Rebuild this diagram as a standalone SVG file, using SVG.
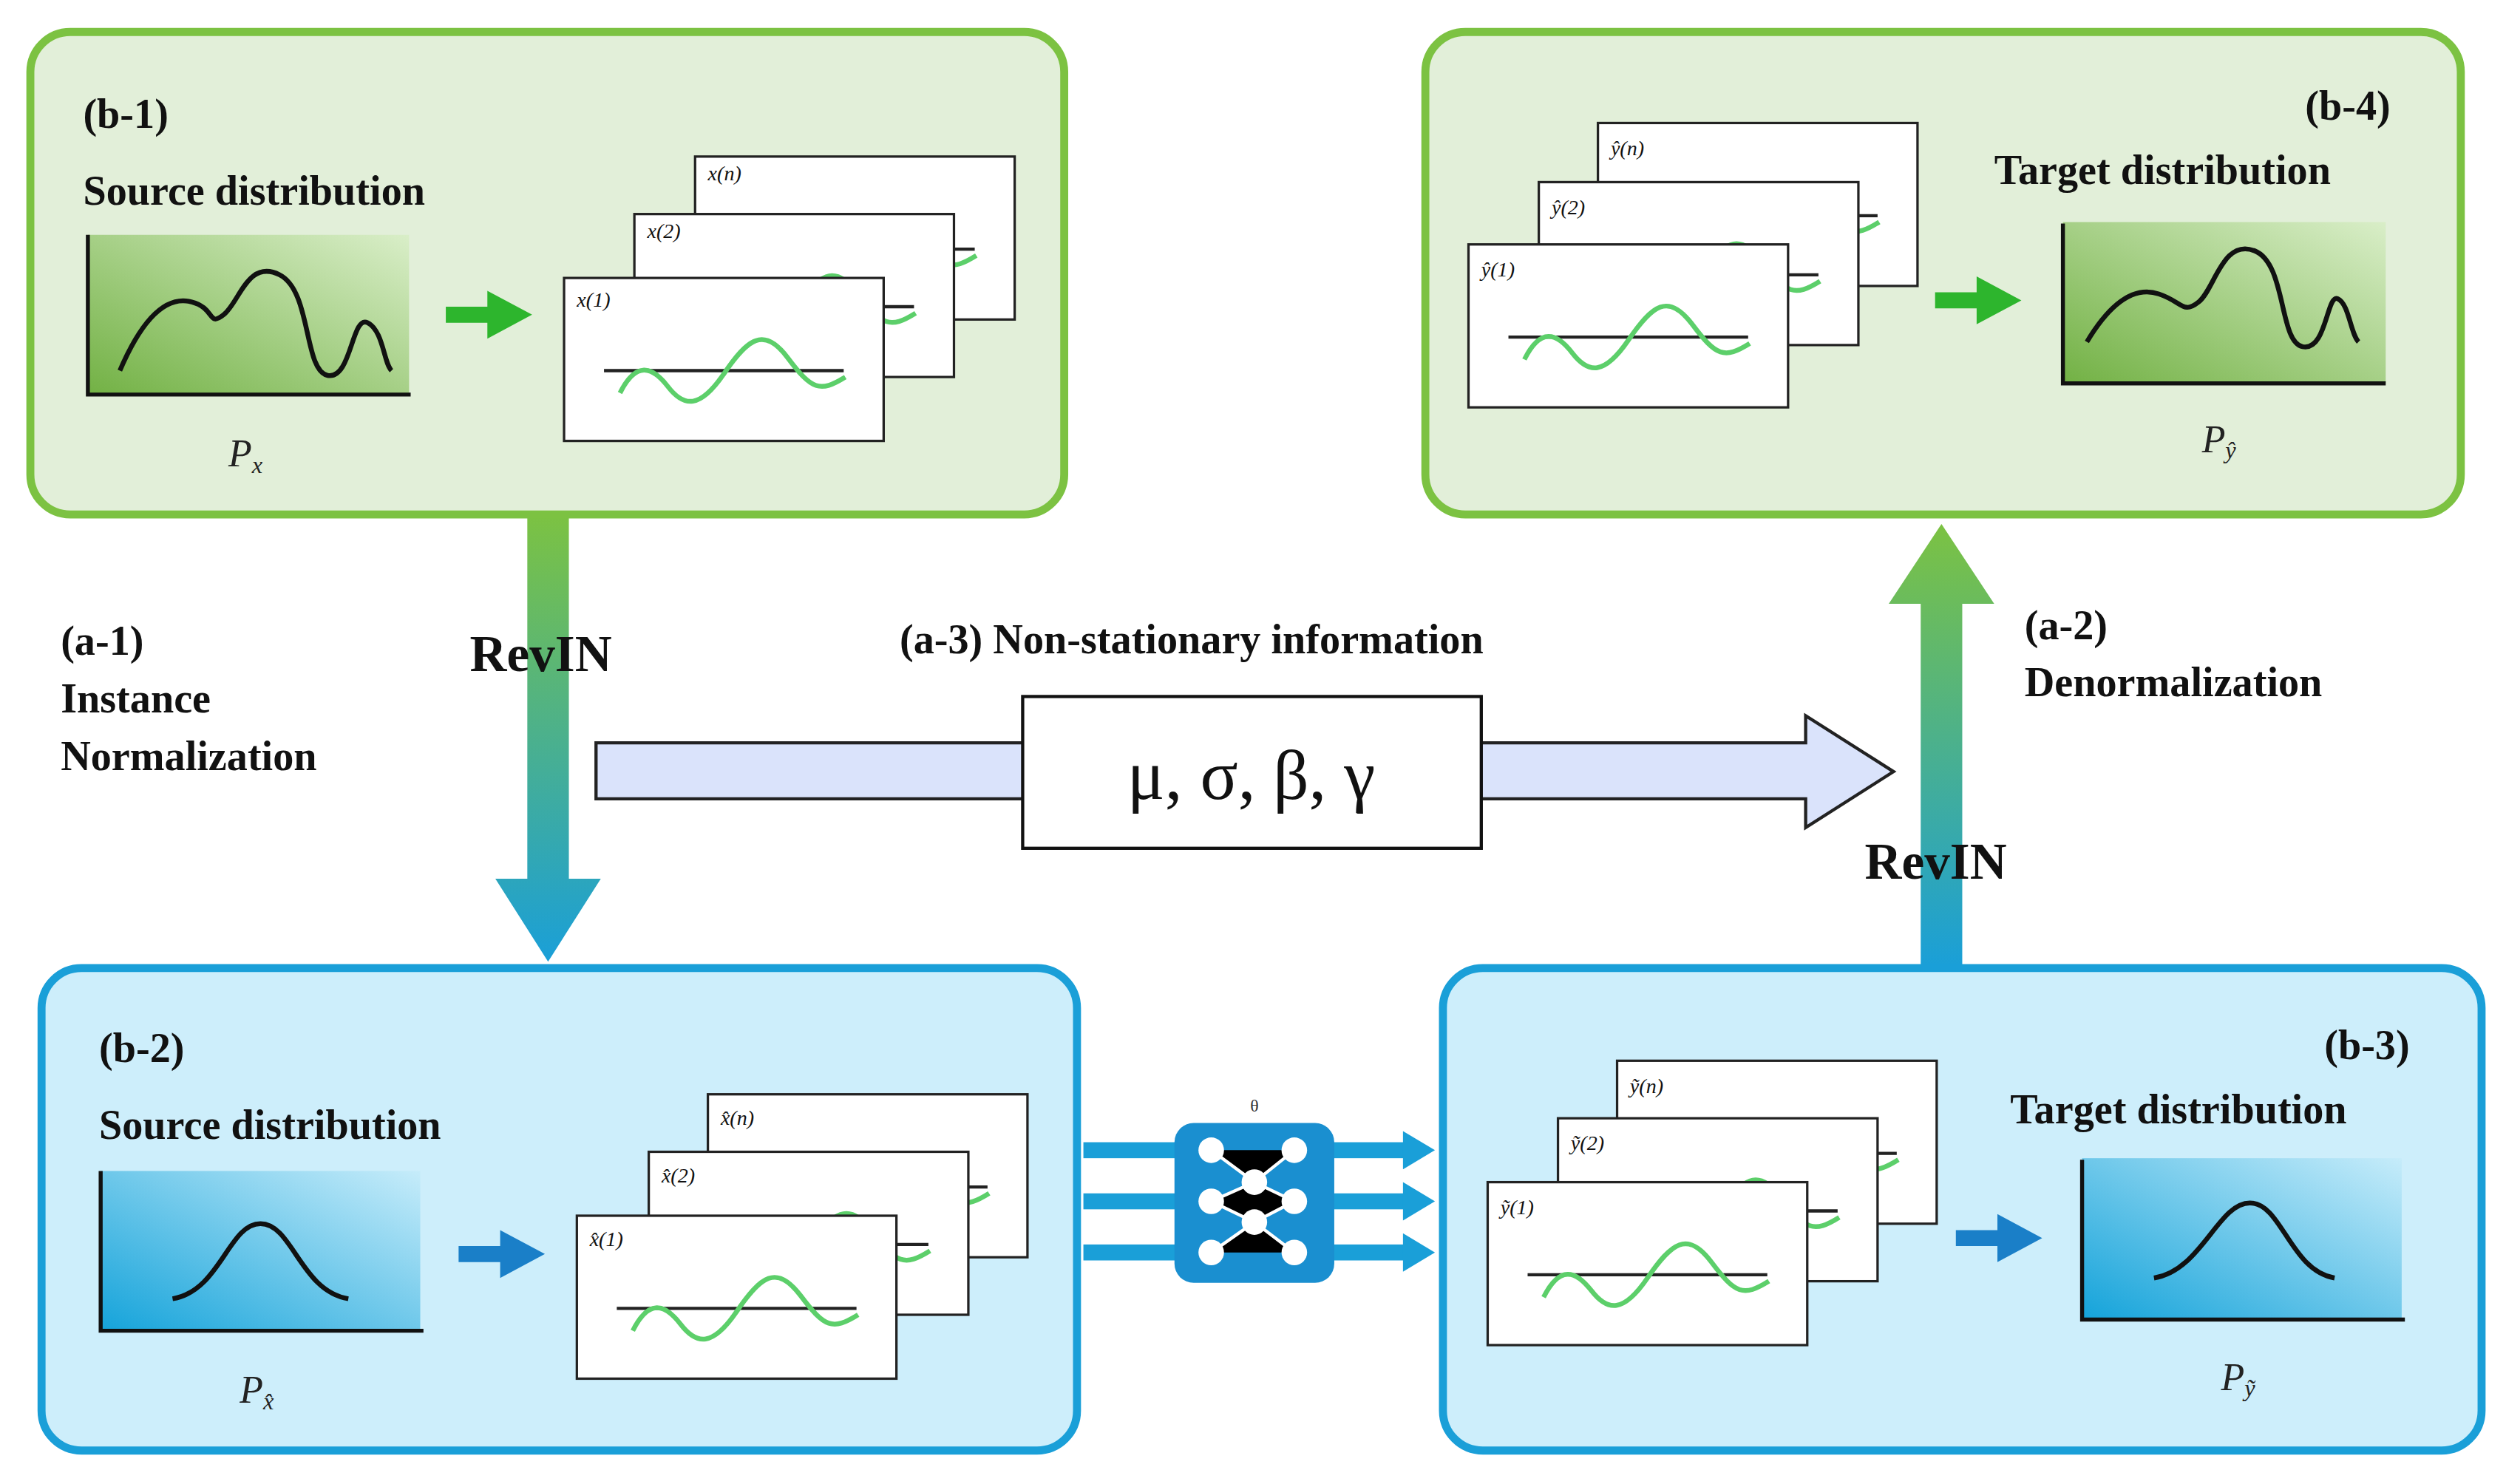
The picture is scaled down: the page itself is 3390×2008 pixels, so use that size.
<svg xmlns="http://www.w3.org/2000/svg" width="3390" height="2008" viewBox="0 0 3390 2008">
<defs>
<style>
.gbox{fill:#e2efd9;stroke:#7cc242;stroke-width:5}
.bbox{fill:#cdeefb;stroke:#1a9fd8;stroke-width:5}
.t{font-family:"Liberation Serif",serif;font-weight:bold;font-size:26px;fill:#111}
.rev{font-family:"Liberation Serif",serif;font-weight:bold;font-size:32px;fill:#111}
.lab{font-family:"Liberation Serif",serif;font-style:italic;font-size:13px;fill:#111}
.p{font-family:"Liberation Serif",serif;font-style:italic;font-size:24px;fill:#222}
.card{fill:#fff;stroke:#222;stroke-width:1.5}
.wave{fill:none;stroke:#5ccf6a;stroke-width:3}
.curve{fill:none;stroke:#111;stroke-width:3}
</style>
<linearGradient id="gplot" x1="0" y1="1" x2="1" y2="0"><stop offset="0" stop-color="#72b144"/><stop offset="1" stop-color="#d9eec8"/></linearGradient>
<linearGradient id="bplot" x1="0" y1="1" x2="1" y2="0"><stop offset="0" stop-color="#14a3da"/><stop offset="1" stop-color="#c6ecfa"/></linearGradient>
<linearGradient id="down" x1="0" y1="0" x2="0" y2="1"><stop offset="0" stop-color="#7cc242"/><stop offset="1" stop-color="#1a9fd8"/></linearGradient>
<linearGradient id="up" x1="0" y1="1" x2="0" y2="0"><stop offset="0" stop-color="#1a9fd8"/><stop offset="1" stop-color="#7cc242"/></linearGradient>
<g id="cardbody">
<rect class="card" x="0" y="0" width="200" height="102"/>
<line x1="25" y1="58" x2="175" y2="58" stroke="#222" stroke-width="2"/>
<path class="wave" d="M35,72 C45,52 55,55 65,68 S85,82 100,60 S125,30 140,50 S160,72 176,62"/>
</g>
<g id="plotaxes"><path d="M0,0 V100 H202" fill="none" stroke="#111" stroke-width="2.5"/></g>
</defs>
<rect width="3390" height="2008" fill="#fff"/>
<g transform="scale(2.1616)">
<g id="connectors">
<path d="M330,322 H356 V550 H376 L343,602 L310,550 H330 Z" fill="url(#down)"/>
<path d="M1202,605 H1228 V378 H1248 L1215,328 L1182,378 H1202 Z" fill="url(#up)"/>
<path d="M373,465 H1130 V448 L1185,483 L1130,518 V500 H373 Z" fill="#dae3fb" stroke="#222" stroke-width="2"/>
<g fill="#1a9fd8">
<rect x="678" y="715" width="60" height="10"/><rect x="678" y="747" width="60" height="10"/><rect x="678" y="779" width="60" height="10"/>
<rect x="830" y="715" width="50" height="10"/><path d="M878,708 L898,720 L878,732 Z"/>
<rect x="830" y="747" width="50" height="10"/><path d="M878,740 L898,752 L878,764 Z"/>
<rect x="830" y="779" width="50" height="10"/><path d="M878,772 L898,784 L878,796 Z"/>
</g>
</g>
<g id="nonstationary">
<rect x="640" y="436" width="287" height="95" fill="#fff" stroke="#111" stroke-width="2"/>
<text x="783" y="500" text-anchor="middle" font-family="Liberation Serif,serif" font-size="44" fill="#111">μ, σ, β, γ</text>
<text class="t" x="563" y="409">(a-3)  Non-stationary information</text>
</g>
<g id="labels">
<text class="t" x="38" y="410">(a-1)</text><text class="t" x="38" y="446">Instance</text><text class="t" x="38" y="482">Normalization</text>
<text class="rev" x="294" y="420">RevIN</text>
<text class="t" x="1267" y="400">(a-2)</text><text class="t" x="1267" y="436">Denormalization</text>
<text class="rev" x="1167" y="550">RevIN</text>
</g>
<g id="network">
<text x="785" y="696" text-anchor="middle" font-family="Liberation Serif,serif" font-size="11" fill="#333">θ</text>
<rect x="735" y="703" width="100" height="100" rx="12" fill="#1a8fd0"/>
<g stroke="#fff" stroke-width="2"><path d="M758,720 L785,740 L810,720 M758,752 L785,740 L810,752 L785,765 L758,752 M758,784 L785,765 L810,784"/></g>
<g fill="#fff"><circle cx="758" cy="720" r="8"/><circle cx="810" cy="720" r="8"/><circle cx="785" cy="740" r="8"/><circle cx="758" cy="752" r="8"/><circle cx="810" cy="752" r="8"/><circle cx="785" cy="765" r="8"/><circle cx="758" cy="784" r="8"/><circle cx="810" cy="784" r="8"/></g>
</g>
<g id="b1">
<rect class="gbox" x="19" y="20" width="647" height="302" rx="25"/>
<text class="t" x="52" y="80">(b-1)</text><text class="t" x="52" y="128">Source distribution</text>
<rect x="55" y="147" width="201" height="100" fill="url(#gplot)"/><use href="#plotaxes" x="55" y="147"/>
<path class="curve" transform="translate(55,147)" d="M20,85 C35,50 50,38 65,42 S75,58 85,50 S100,15 120,25 S135,85 150,88 S165,50 175,55 S185,80 190,85"/>
<path d="M279,192 H305 V182 L333,197 L305,212 V202 H279 Z" fill="#2db52d"/>
<use href="#cardbody" x="435" y="98"/><text class="lab" x="443" y="113">x(n)</text>
<use href="#cardbody" x="397" y="134"/><text class="lab" x="405" y="149">x(2)</text>
<use href="#cardbody" x="353" y="174"/><text class="lab" x="361" y="192">x(1)</text>
<text class="p" x="143" y="292">P<tspan font-size="15" dy="4">x</tspan></text>
</g>
<g id="b4">
<rect class="gbox" x="892" y="20" width="648" height="302" rx="25"/>
<text class="t" x="1496" y="75" text-anchor="end">(b-4)</text><text class="t" x="1248" y="115">Target distribution</text>
<use href="#cardbody" x="1000" y="77"/><text class="lab" x="1008" y="97">ŷ(n)</text>
<use href="#cardbody" x="963" y="114"/><text class="lab" x="971" y="134">ŷ(2)</text>
<use href="#cardbody" x="919" y="153"/><text class="lab" x="927" y="173">ŷ(1)</text>
<path d="M1211,183 H1237 V173 L1265,188 L1237,203 V193 H1211 Z" fill="#2db52d"/>
<rect x="1291" y="139" width="202" height="101" fill="url(#gplot)"/><use href="#plotaxes" x="1291" y="140"/>
<path class="curve" transform="translate(1291,139)" d="M15,75 C30,50 45,40 60,45 S75,58 85,50 S100,10 120,18 S135,75 150,78 S165,45 172,48 S180,70 185,75"/>
<text class="p" x="1378" y="283">P<tspan font-size="15" dy="4">ŷ</tspan></text>
</g>
<g id="b2">
<rect class="bbox" x="26" y="606" width="648" height="302" rx="25"/>
<text class="t" x="62" y="665">(b-2)</text><text class="t" x="62" y="713">Source distribution</text>
<rect x="63" y="733" width="200" height="101" fill="url(#bplot)"/><use href="#plotaxes" x="63" y="733"/>
<path class="curve" transform="translate(63,733)" d="M45,80 C75,75 80,33 100,33 S125,75 155,80"/>
<path d="M287,780 H313 V770 L341,785 L313,800 V790 H287 Z" fill="#1a7fc8"/>
<use href="#cardbody" x="443" y="685"/><text class="lab" x="451" y="704">x̂(n)</text>
<use href="#cardbody" x="406" y="721"/><text class="lab" x="414" y="740">x̂(2)</text>
<use href="#cardbody" x="361" y="761"/><text class="lab" x="369" y="780">x̂(1)</text>
<text class="p" x="150" y="878">P<tspan font-size="15" dy="4">x̂</tspan></text>
</g>
<g id="b3">
<rect class="bbox" x="903" y="606" width="650" height="302" rx="25"/>
<text class="t" x="1508" y="663" text-anchor="end">(b-3)</text><text class="t" x="1258" y="703">Target distribution</text>
<use href="#cardbody" x="1012" y="664"/><text class="lab" x="1020" y="684">ỹ(n)</text>
<use href="#cardbody" x="975" y="700"/><text class="lab" x="983" y="720">ỹ(2)</text>
<use href="#cardbody" x="931" y="740"/><text class="lab" x="939" y="760">ỹ(1)</text>
<path d="M1224,770 H1250 V760 L1278,775 L1250,790 V780 H1224 Z" fill="#1a7fc8"/>
<rect x="1303" y="725" width="200" height="101" fill="url(#bplot)"/><use href="#plotaxes" x="1303" y="726"/>
<path class="curve" transform="translate(1303,725)" d="M45,75 C75,70 85,28 105,28 S130,70 158,75"/>
<text class="p" x="1390" y="870">P<tspan font-size="15" dy="4">ỹ</tspan></text>
</g>
</g>
</svg>
